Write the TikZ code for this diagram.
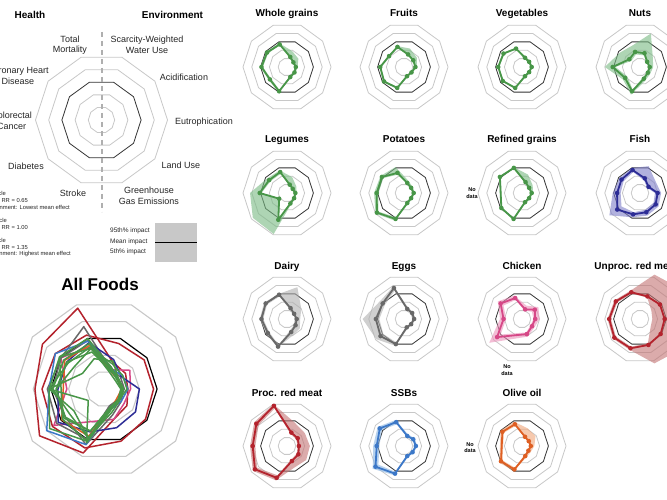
\documentclass[tikz,border=0pt]{standalone}
\usepackage{fontspec}
\setmainfont{Liberation Sans}
\usetikzlibrary{calc}

\definecolor{cgreen}{RGB}{72,150,72}
\definecolor{cgreenband}{RGB}{120,185,130}
\definecolor{cnavy}{RGB}{45,45,150}
\definecolor{cnavyband}{RGB}{125,125,200}
\definecolor{cgray}{RGB}{105,105,105}
\definecolor{cgrayband}{RGB}{175,175,175}
\definecolor{cpink}{RGB}{214,72,135}
\definecolor{cpinkband}{RGB}{235,145,185}
\definecolor{cred}{RGB}{180,35,45}
\definecolor{credband}{RGB}{195,115,115}
\definecolor{cblue}{RGB}{60,120,200}
\definecolor{cblueband}{RGB}{135,180,228}
\definecolor{corange}{RGB}{222,95,35}
\definecolor{corangeband}{RGB}{240,165,120}
\definecolor{ringgray}{RGB}{200,200,200}
\definecolor{legbox}{RGB}{200,200,200}
\definecolor{dashgray}{RGB}{175,175,175}

% data: axis index / value (ring units, black ring = 3)
\def\wgM{0/2.7,1/2.8,2/2.9,3/2.4,4/2.9,5/1.2,6/1.05,7/1.0,8/0.9,9/1.2}
\def\wgL{0/2.6,1/2.65,2/2.75,3/2.25,4/2.75,5/1.1,6/0.95,7/0.9,8/0.8,9/1.05}
\def\wgH{0/2.85,1/2.95,2/3.05,3/2.55,4/3.05,5/1.3,6/1.2,7/1.2,8/1.6,9/1.9}
\def\frM{0/2.4,1/2.1,2/2.7,3/2.8,4/2.5,5/1.1,6/1.05,7/1.3,8/1.3,9/1.5}
\def\frL{0/2.3,1/2.0,2/2.6,3/2.7,4/2.4,5/1.0,6/0.95,7/1.2,8/1.2,9/1.4}
\def\frH{0/2.5,1/2.2,2/2.8,3/2.9,4/2.6,5/1.2,6/1.15,7/1.45,8/1.8,9/2.2}
\def\veM{0/2.2,1/2.6,2/2.7,3/2.7,4/2.5,5/1.1,6/1.0,7/1.1,8/1.0,9/1.1}
\def\veL{0/2.1,1/2.5,2/2.6,3/2.6,4/2.4,5/1.0,6/0.9,7/1.0,8/0.9,9/1.0}
\def\veH{0/2.3,1/2.7,2/2.8,3/2.8,4/2.6,5/1.2,6/1.1,7/1.2,8/1.15,9/1.25}
\def\nuM{0/1.8,1/1.5,2/3.1,3/2.1,4/2.9,5/1.4,6/1.1,7/1.1,8/1.0,9/1.65}
\def\nuL{0/1.5,1/1.2,2/2.8,3/1.8,4/2.7,5/1.2,6/1.0,7/1.0,8/0.9,9/1.4}
\def\nuH{0/2.6,1/2.8,2/4.0,3/2.4,4/3.3,5/1.7,6/1.4,7/1.5,8/1.8,9/4.0}
\def\leM{0/2.5,1/2.5,2/3.1,3/1.1,4/3.2,5/1.25,6/1.0,7/0.95,8/0.8,9/1.0}
\def\leL{0/2.3,1/2.3,2/2.9,3/1.0,4/3.0,5/1.15,6/0.9,7/0.85,8/0.7,9/0.9}
\def\leH{0/2.7,1/2.8,2/4.2,3/4.8,4/4.9,5/1.4,6/1.15,7/1.1,8/1.3,9/1.9}
\def\poM{0/2.4,1/3.1,2/3.1,3/3.8,4/3.1,5/1.2,6/1.0,7/1.1,8/1.0,9/1.2}
\def\poL{0/2.2,1/2.9,2/2.9,3/3.6,4/2.9,5/1.1,6/0.9,7/1.0,8/0.9,9/1.1}
\def\poH{0/3.1,1/3.3,2/3.4,3/4.0,4/3.3,5/1.35,6/1.15,7/1.25,8/1.2,9/1.5}
\def\rgM{0/3.0,1/3.1,3/2.9,4/3.1,5/1.1,6/1.0,7/1.1,8/1.0,9/1.3}
\def\rgL{0/2.9,1/3.0,3/2.8,4/3.0,5/1.0,6/0.9,7/1.0,8/0.9,9/1.15}
\def\rgH{0/3.1,1/3.2,3/3.0,4/3.2,5/1.25,6/1.15,7/1.25,8/1.5,9/2.2}
\def\fiM{0/2.75,1/2.6,2/2.6,3/3.2,4/2.55,5/2.3,6/2.2,7/2.0,8/1.2,9/1.75}
\def\fiL{0/2.5,1/2.3,2/2.2,3/2.6,4/2.3,5/2.0,6/1.9,7/1.7,8/1.0,9/1.5}
\def\fiH{0/3.0,1/2.9,2/3.1,3/4.3,4/2.9,5/2.7,6/2.6,7/2.4,8/2.2,9/3.2}
\def\daM{0/2.9,1/3.0,2/2.9,3/2.7,4/3.3,5/1.55,6/1.2,7/1.1,8/1.0,9/1.3}
\def\daL{0/2.7,1/2.8,2/2.7,3/2.5,4/3.1,5/1.3,6/1.0,7/0.9,8/0.9,9/1.1}
\def\daH{0/3.0,1/3.2,2/3.1,3/2.9,4/3.4,5/2.0,6/1.8,7/1.5,8/2.0,9/3.8}
\def\egM{0/3.7,1/3.0,2/3.2,3/3.3,4/3.0,5/1.0,6/1.0,7/1.15,8/1.15,9/1.2}
\def\egL{0/3.4,1/2.7,2/2.8,3/2.9,4/2.8,5/0.9,6/0.9,7/1.0,8/1.0,9/1.1}
\def\egH{0/3.9,1/3.4,2/4.7,3/3.9,4/3.2,5/1.2,6/1.15,7/1.3,8/1.3,9/1.4}
\def\chM{0/2.5,1/3.0,2/2.1,3/3.5,5/1.8,6/1.4,7/1.5,8/1.8,9/1.15}
\def\chL{0/2.3,1/2.6,2/1.8,3/3.0,5/1.6,6/1.2,7/1.3,8/1.4,9/1.0}
\def\chH{0/2.8,1/3.4,2/2.5,3/4.6,5/2.1,6/1.7,7/2.0,8/2.3,9/1.6}
\def\urM{0/3.2,1/3.4,2/3.5,3/3.6,4/3.5,5/3.1,6/2.9,7/2.8,8/2.8,9/2.7}
\def\urL{0/3.0,1/3.2,2/3.3,3/3.4,4/3.3,5/2.9,6/1.5,7/1.4,8/1.6,9/2.6}
\def\urH{0/3.4,1/3.6,2/3.7,3/3.8,4/3.7,5/5.3,6/5.8,7/5.8,8/5.8,9/5.3}
\def\prM{0/4.8,1/4.3,2/3.9,3/4.5,4/3.8,5/1.8,6/1.6,7/1.35,8/1.5,9/1.6}
\def\prL{0/4.5,1/4.0,2/3.6,3/4.2,4/3.5,5/1.6,6/1.4,7/1.2,8/1.3,9/1.4}
\def\prH{0/5.0,1/4.6,2/4.2,3/4.8,4/4.1,5/2.6,6/2.7,7/2.6,8/2.5,9/2.8}
\def\ssM{0/2.85,1/3.4,2/3.1,3/4.0,4/3.3,5/1.2,6/1.2,7/1.35,8/1.3,9/1.2}
\def\ssL{0/2.6,1/3.1,2/2.8,3/3.6,4/3.1,5/1.1,6/1.1,7/1.2,8/1.2,9/1.1}
\def\ssH{0/3.1,1/3.7,2/3.5,3/4.4,4/3.5,5/1.35,6/1.35,7/1.5,8/1.5,9/1.4}
\def\ooM{0/2.6,1/2.75,3/2.95,4/2.8,5/1.2,6/0.9,7/1.0,8/0.95,9/1.1}
\def\ooL{0/2.4,1/2.55,3/2.75,4/2.6,5/1.05,6/0.8,7/0.9,8/0.85,9/1.0}
\def\ooH{0/2.9,1/3.0,3/3.2,4/3.0,5/1.4,6/1.2,7/1.4,8/1.9,9/2.1}

\def\smallstep{8.8}
\def\afstep{17.7}

\newcommand\radarcoords[4]{%
  \foreach \k/\v [count=\i] in #4 {%
    \coordinate (#1-\i) at ($(#2)+({108+36*\k}:{\v*#3})$);
    \xdef\radarN{\i}}%
}
\newcommand\drawradar[2]{%
  \draw[#2] (#1-1) \foreach \j in {2,...,\radarN}{ -- (#1-\j)} -- cycle;}
\newcommand\bandfill[3]{%
  \fill[fill=#3, fill opacity=0.6, even odd rule] (#1-1) \foreach \j in {2,...,\radarN}{ -- (#1-\j)} -- cycle
    (#2-1) \foreach \j in {2,...,\radarN}{ -- (#2-\j)} -- cycle;}
\newcommand\rings[4]{%
  \foreach \n in {1,2,4,5}{\draw[#3] ($(#1)+(0:{\n*#2})$) \foreach \a in {36,72,...,324}{ -- ($(#1)+(\a:{\n*#2})$)} -- cycle;}
  \draw[#4] ($(#1)+(0:{3*#2})$) \foreach \a in {36,72,...,324}{ -- ($(#1)+(\a:{3*#2})$)} -- cycle;}
\newcommand\food[6]{%
  \rings{#2}{\smallstep}{ringline}{blackring}
  \radarcoords{#1h}{#2}{\smallstep}{#6}
  \radarcoords{#1l}{#2}{\smallstep}{#5}
  \bandfill{#1h}{#1l}{#3band}
  \radarcoords{#1m}{#2}{\smallstep}{#4}
  \drawradar{#1m}{meanline, draw=#3}
  \foreach \j in {1,...,\radarN} \fill[#3] (#1m-\j) circle (2.3);
}
\newcommand\afpoly[3]{%
  \radarcoords{af#1}{cAF}{\afstep}{#3}
  \drawradar{af#1}{afline, draw=#2}}

\begin{document}
\begin{tikzpicture}[x=1pt,y=1pt,
  ringline/.style={draw=ringgray, line width=0.8pt},
  blackring/.style={draw=black!80, line width=0.8pt},
  afring/.style={draw=ringgray, line width=1.1pt},
  afblack/.style={draw=black, line width=1.2pt},
  meanline/.style={line width=1.8pt, line join=round},
  afline/.style={line width=1.5pt, line join=round},
  ftitle/.style={font=\bfseries\fontsize{10}{12}\selectfont, anchor=base, inner sep=0pt},
  axlabel/.style={font=\fontsize{9}{10.5}\selectfont, align=center, inner sep=0pt, text=black!85},
  tinytext/.style={font=\fontsize{5.8}{7}\selectfont, inner sep=0pt, anchor=east, text=black!85},
  boxlabel/.style={font=\fontsize{6.5}{8}\selectfont, inner sep=0pt, anchor=west, text=black!85},
  nodata/.style={font=\bfseries\fontsize{5.5}{6.5}\selectfont, align=center, inner sep=0pt},
  dashaxis/.style={draw=dashgray, line width=2pt, dash pattern=on 5pt off 4pt}
]
\useasboundingbox (0,0) rectangle (667,-500);
\clip (0,0) rectangle (667,-500);
\fill[white] (0,0) rectangle (667,-500);

% ---------- legend radar ----------
\coordinate (cLG) at (101.5,-120);
\rings{cLG}{13.2}{ringline}{blackring}
\coordinate (dtop) at (101.5,-32);
\coordinate (dbot) at (101.5,-212);
\draw[dashaxis] (dtop) -- (dbot);

\node[font=\bfseries\fontsize{10}{12}\selectfont, inner sep=0pt] (hHealth) at (30,-15) {Health};
\node[font=\bfseries\fontsize{10}{12}\selectfont, inner sep=0pt] (hEnv) at (172.5,-15) {Environment};

\node[axlabel] (lTM) at (70,-45) {Total\\Mortality};
\node[axlabel] (lWU) at (147,-45) {Scarcity-Weighted\\Water Use};
\node[axlabel] (lCHD) at (18,-76) {Coronary Heart\\Disease};
\node[axlabel] (lAC) at (184,-77) {Acidification};
\node[axlabel] (lCRC) at (11.7,-121) {Colorectal\\Cancer};
\node[axlabel] (lEU) at (204,-122) {Eutrophication};
\node[axlabel] (lDI) at (26,-166.5) {Diabetes};
\node[axlabel] (lLU) at (181,-165.5) {Land Use};
\node[axlabel] (lST) at (73,-193) {Stroke};
\node[axlabel] (lGH) at (149,-196) {Greenhouse\\Gas Emissions};

\node[tinytext] (t1) at (6,-193) {Inner circle};
\node[tinytext] (t2) at (28,-200.7) {Health: RR = 0.65};
\node[tinytext] (t3) at (70,-207.7) {Environment: Lowest mean effect};
\node[tinytext] (t4) at (7,-220) {Middle circle};
\node[tinytext] (t5) at (28,-227.7) {Health: RR = 1.00};
\node[tinytext] (t6) at (6,-240) {Outer circle};
\node[tinytext] (t7) at (28,-247) {Health: RR = 1.35};
\node[tinytext] (t8) at (71,-254) {Environment: Highest mean effect};

\node[fill=legbox, minimum width=42pt, minimum height=39pt, inner sep=0pt, anchor=north west] (lbox) at (155,-223) {};
\draw[black, line width=1pt] (lbox.west) -- (lbox.east);
\node[boxlabel] (b1) at (110,-231) {95th\% impact};
\node[boxlabel] (b2) at (110,-241.5) {Mean impact};
\node[boxlabel] (b3) at (110,-252) {5th\% impact};

% ---------- small charts ----------
\coordinate (cWG) at (287,-67);  \coordinate (cFR) at (404,-67);
\coordinate (cVE) at (522,-67);  \coordinate (cNU) at (640,-67);
\coordinate (cLE) at (287,-193); \coordinate (cPO) at (404,-193);
\coordinate (cRG) at (522,-193); \coordinate (cFI) at (640,-193);
\coordinate (cDA) at (287,-319); \coordinate (cEG) at (404,-319);
\coordinate (cCH) at (522,-319); \coordinate (cUR) at (640,-319);
\coordinate (cPR) at (287,-446); \coordinate (cSS) at (404,-446);
\coordinate (cOO) at (522,-446);

\food{wg}{cWG}{cgreen}{\wgM}{\wgL}{\wgH}
\food{fr}{cFR}{cgreen}{\frM}{\frL}{\frH}
\food{ve}{cVE}{cgreen}{\veM}{\veL}{\veH}
\food{nu}{cNU}{cgreen}{\nuM}{\nuL}{\nuH}
\food{le}{cLE}{cgreen}{\leM}{\leL}{\leH}
\food{po}{cPO}{cgreen}{\poM}{\poL}{\poH}
\food{rg}{cRG}{cgreen}{\rgM}{\rgL}{\rgH}
\food{fi}{cFI}{cnavy}{\fiM}{\fiL}{\fiH}
\food{da}{cDA}{cgray}{\daM}{\daL}{\daH}
\food{eg}{cEG}{cgray}{\egM}{\egL}{\egH}
\food{ch}{cCH}{cpink}{\chM}{\chL}{\chH}
\food{ur}{cUR}{cred}{\urM}{\urL}{\urH}
\food{pr}{cPR}{cred}{\prM}{\prL}{\prH}
\food{ss}{cSS}{cblue}{\ssM}{\ssL}{\ssH}
\food{oo}{cOO}{corange}{\ooM}{\ooL}{\ooH}

\node[ftitle] (tWG) at (287,-17) {Whole grains};
\node[ftitle] (tFR) at (404,-17) {Fruits};
\node[ftitle] (tVE) at (522,-17) {Vegetables};
\node[ftitle] (tNU) at (640,-17) {Nuts};
\node[ftitle] (tLE) at (287,-143) {Legumes};
\node[ftitle] (tPO) at (404,-143) {Potatoes};
\node[ftitle] (tRG) at (522,-143) {Refined grains};
\node[ftitle] (tFI) at (640,-143) {Fish};
\node[ftitle] (tDA) at (287,-269) {Dairy};
\node[ftitle] (tEG) at (404,-269) {Eggs};
\node[ftitle] (tCH) at (522,-269) {Chicken};
\node[ftitle] (tUR) at (636,-269) {Unproc. red meat};
\node[ftitle] (tPR) at (287,-396.5) {Proc. red meat};
\node[ftitle] (tSS) at (404,-396.5) {SSBs};
\node[ftitle] (tOO) at (522,-396.5) {Olive oil};

\node[nodata] (ndRG) at (472,-193) {No\\data};
\node[nodata] (ndCH) at (507,-370) {No\\data};
\node[nodata] (ndOO) at (470,-447.5) {No\\data};

% ---------- All Foods ----------
\coordinate (cAF) at (104,-389);
\node[font=\bfseries\fontsize{17}{20}\selectfont, inner sep=0pt] (tAF) at (100,-284) {All Foods};
\rings{cAF}{\afstep}{afring}{afblack}
\afpoly{ur}{cred}{\urM}
\afpoly{pr}{cred}{\prM}
\afpoly{ch}{cpink}{\chM}
\afpoly{da}{cgray}{\daM}
\afpoly{eg}{cgray}{\egM}
\afpoly{fi}{cnavy}{\fiM}
\afpoly{ss}{cblue}{\ssM}
\afpoly{oo}{corange}{\ooM}
\afpoly{wg}{cgreen}{\wgM}
\afpoly{fr}{cgreen}{\frM}
\afpoly{ve}{cgreen}{\veM}
\afpoly{nu}{cgreen}{\nuM}
\afpoly{le}{cgreen}{\leM}
\afpoly{po}{cgreen}{\poM}
\afpoly{rg}{cgreen}{\rgM}
\end{tikzpicture}
\end{document}
